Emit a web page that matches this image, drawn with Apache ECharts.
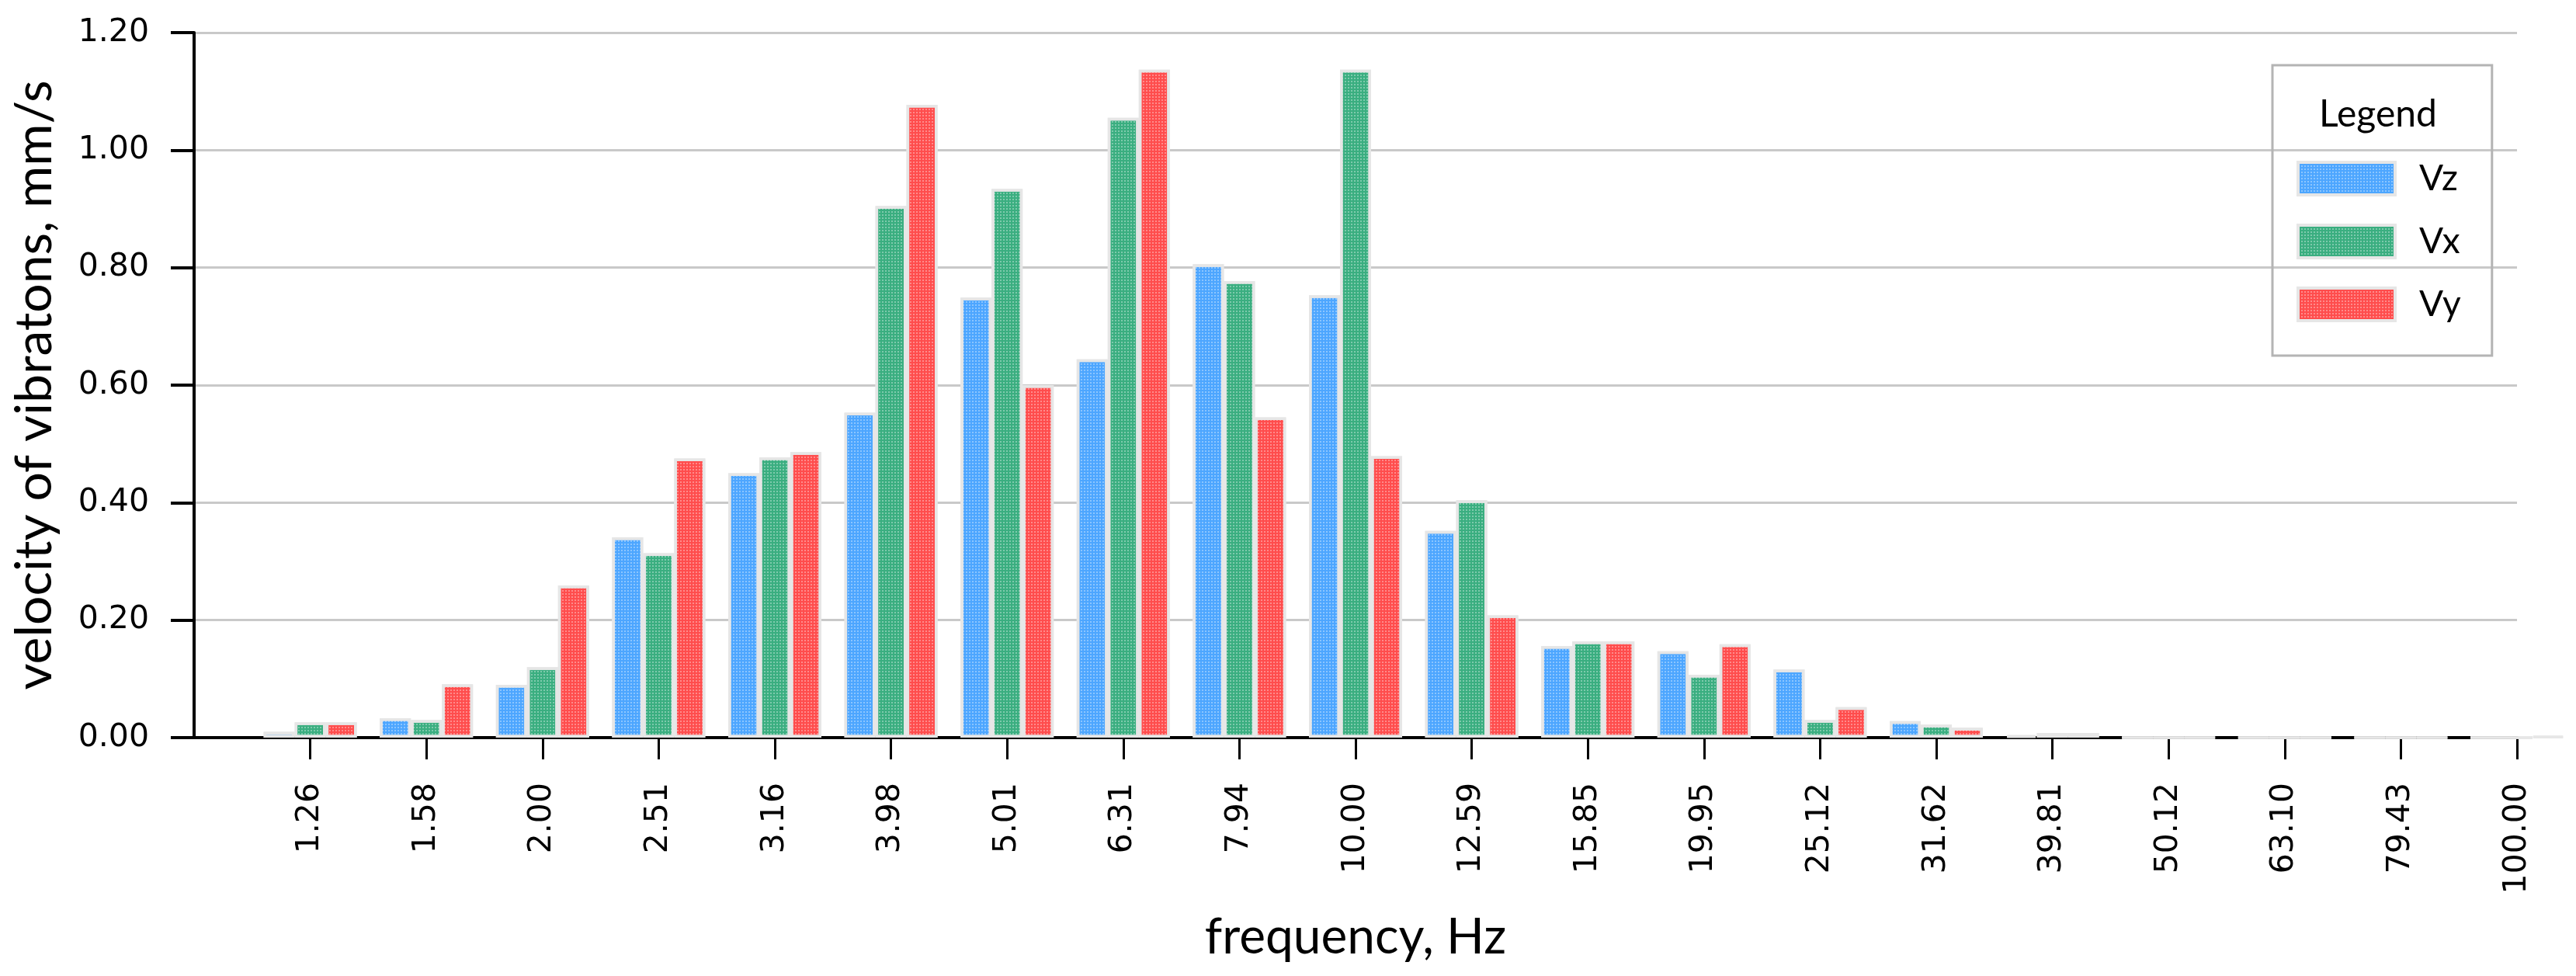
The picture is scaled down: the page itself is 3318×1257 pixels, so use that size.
<!DOCTYPE html>
<html>
<head>
<meta charset="utf-8">
<title>velocity of vibrations</title>
<script src="https://cdn.jsdelivr.net/npm/echarts@6/dist/echarts.min.js"></script>
<style>
	html, body { margin: 0; padding: 0; background: #ffffff; }
	#main { width: 3318px; height: 1257px; }
</style>
</head>
<body>
<div id="main"></div>
<script>
// frequency bands (first slot is the empty start of the axis)
var freqLabels = ['', '1.26', '1.58', '2.00', '2.51', '3.16', '3.98', '5.01', '6.31', '7.94', '10.00',
	'12.59', '15.85', '19.95', '25.12', '31.62', '39.81', '50.12', '63.10', '79.43', '100.00'];
// velocity values, mm/s
var vz = ['-', 0.010, 0.033, 0.090, 0.341, 0.450, 0.553, 0.749, 0.644, 0.806, 0.753,
	0.352, 0.156, 0.147, 0.116, 0.028, 0.004, 0, 0, 0, 0];
var vx = ['-', 0.026, 0.030, 0.120, 0.314, 0.477, 0.905, 0.934, 1.055, 0.777, 1.137,
	0.404, 0.164, 0.107, 0.030, 0.022, 0.008, 0, 0, 0, 0];
var vy = ['-', 0.026, 0.091, 0.259, 0.475, 0.486, 1.077, 0.600, 1.137, 0.545, 0.479,
	0.208, 0.164, 0.159, 0.052, 0.017, 0.008, 0, 0, 0, 0.002];
var yTicks = [0, 0.2, 0.4, 0.6, 0.8, 1.0, 1.2];

var myChart = echarts.init(document.getElementById('main'));

function barStyle(color) {
	return {
		color: color,
		borderColor: '#e6e6e6',
		borderWidth: 3.5,
		decal: {
			symbol: 'rect',
			symbolSize: 1,
			dashArrayX: [2, 2],
			dashArrayY: [2, 2],
			color: 'rgba(255,255,255,0.35)'
		}
	};
}

var option = {
	animation: false,
	backgroundColor: '#ffffff',
	title: {
		text: 'Legend',
		left: 3063,
		top: 124,
		padding: 0,
		textAlign: 'center',
		textStyle: {
			fontFamily: 'Lato',
			fontSize: 48,
			fontWeight: 'normal',
			color: '#000000'
		}
	},
	legend: {
		data: ['Vz', 'Vx', 'Vy'],
		orient: 'vertical',
		icon: 'rect',
		left: 2927,
		top: 84,
		padding: [123, 40, 43, 31],
		itemWidth: 125,
		itemHeight: 42,
		itemGap: 35,
		borderColor: '#b4b4b4',
		borderWidth: 3,
		itemStyle: {
			borderColor: '#e6e6e6',
			borderWidth: 4
		},
		textStyle: {
			fontFamily: 'Lato',
			fontSize: 46,
			color: '#000000',
			padding: [0, 0, 0, 26]
		}
	},
	grid: {
		left: 250,
		right: 76,
		top: 42,
		bottom: 307,
		outerBoundsMode: 'none'
	},
	xAxis: {
		type: 'category',
		data: freqLabels,
		boundaryGap: false,
		name: 'frequency, Hz',
		nameLocation: 'middle',
		nameGap: 225,
		nameTextStyle: {
			fontFamily: 'Lato',
			fontSize: 64,
			color: '#000000'
		},
		axisLine: {
			lineStyle: { color: '#000000', width: 4 }
		},
		axisTick: {
			length: 28,
			interval: function (idx) { return idx > 0; },
			lineStyle: { color: '#000000', width: 3 }
		},
		axisLabel: {
			interval: 0,
			rotate: 90,
			margin: 58,
			fontFamily: 'DejaVu Sans',
			fontSize: 41,
			color: '#000000'
		},
		splitLine: { show: false }
	},
	yAxis: {
		type: 'value',
		min: yTicks[0],
		max: yTicks[yTicks.length - 1],
		interval: 0.2,
		name: 'velocity of vibratons, mm/s',
		nameLocation: 'middle',
		nameGap: 172,
		nameTextStyle: {
			fontFamily: 'Lato',
			fontSize: 66,
			color: '#000000'
		},
		axisLine: {
			show: true,
			lineStyle: { color: '#000000', width: 4 }
		},
		axisTick: {
			show: true,
			length: 30,
			lineStyle: { color: '#000000', width: 4 }
		},
		axisLabel: {
			margin: 58,
			fontFamily: 'DejaVu Sans',
			fontSize: 41,
			color: '#000000',
			formatter: function (v) { return v.toFixed(2); }
		},
		splitLine: {
			lineStyle: { color: '#c9c9c9', width: 3 }
		}
	},
	series: [
		{
			name: 'Vz',
			type: 'bar',
			barWidth: 40,
			barGap: '0%',
			itemStyle: barStyle('#4da6ff'),
			data: vz
		},
		{
			name: 'Vx',
			type: 'bar',
			barWidth: 40,
			barGap: '0%',
			itemStyle: barStyle('#3aae80'),
			data: vx
		},
		{
			name: 'Vy',
			type: 'bar',
			barWidth: 40,
			barGap: '0%',
			itemStyle: barStyle('#ff4d4d'),
			data: vy
		}
	]
};
myChart.setOption(option);
</script>
</body>
</html>
